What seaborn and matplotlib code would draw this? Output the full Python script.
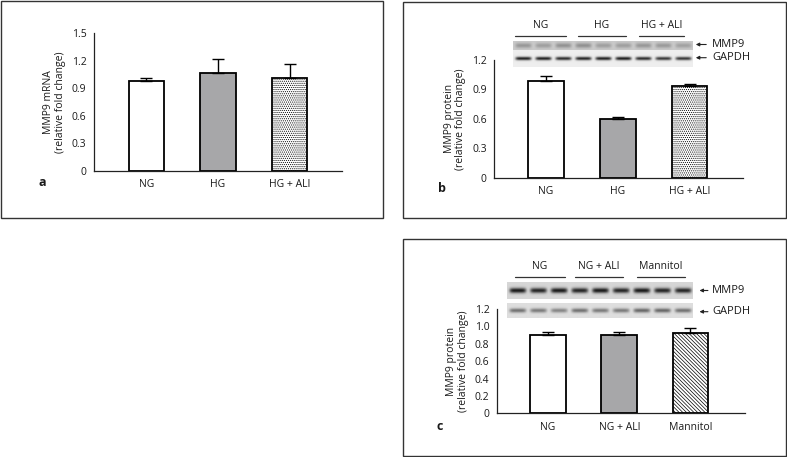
import numpy as np
import pandas as pd
import matplotlib
matplotlib.use('Agg')
import matplotlib.pyplot as plt
import seaborn as sns
from matplotlib.patches import Rectangle, FancyArrowPatch
from matplotlib.lines import Line2D

# ---------------- data ----------------
cats_a = ['NG', 'HG', 'HG + ALI']
mrna_mean = [0.98, 1.07, 1.01]
mrna_sem = [0.03, 0.15, 0.15]
yticks_a = [0, 0.3, 0.6, 0.9, 1.2, 1.5]
yticklabels_a = ['0', '0.3', '0.6', '0.9', '1.2', '1.5']

cats_b = ['NG', 'HG', 'HG + ALI']
prot_b_mean = [0.99, 0.60, 0.93]
prot_b_sem = [0.05, 0.02, 0.03]
yticks_b = [0, 0.3, 0.6, 0.9, 1.2]
yticklabels_b = ['0', '0.3', '0.6', '0.9', '1.2']

cats_c = ['NG', 'NG + ALI', 'Mannitol']
prot_c_mean = [0.90, 0.90, 0.92]
prot_c_sem = [0.04, 0.04, 0.06]
yticks_c = [0, 0.2, 0.4, 0.6, 0.8, 1.0, 1.2]
yticklabels_c = ['0', '0.2', '0.4', '0.6', '0.8', '1.0', '1.2']

# western blot band darkness per lane (3 lanes per group)
blot_b_mmp9 = [0.35, 0.30, 0.38, 0.40, 0.30, 0.30, 0.35, 0.33, 0.28]
blot_b_gapdh = [0.90, 0.90, 0.85, 0.88, 0.90, 0.92, 0.85, 0.80, 0.80]
blot_c_mmp9 = [0.85, 0.80, 0.85, 0.80, 0.85, 0.80, 0.85, 0.80, 0.80]
blot_c_gapdh = [0.55, 0.50, 0.45, 0.55, 0.50, 0.50, 0.60, 0.60, 0.55]
blot_proteins = ['MMP9', 'GAPDH']

# ---------------- style ----------------
sns.set_style('white')
plt.rcParams['font.family'] = ['Open Sans', 'DejaVu Sans']
plt.rcParams['hatch.linewidth'] = 0.5
TXT = '#1a1a1a'
FS = 7.5

W, H = 787, 457
fig = plt.figure(figsize=(W / 100, H / 100), dpi=100)


def frac(x0, y0, x1, y1):
    return [x0 / W, 1 - y1 / H, (x1 - x0) / W, (y1 - y0) / H]


def fx(x):
    return x / W


def fy(y):
    return 1 - y / H


# panel frames
for (x0, y0, x1, y1) in [(1, 1, 383.3, 218), (403.3, 2, 785.7, 218.3), (403.3, 239, 785.7, 455.7)]:
    fig.add_artist(Rectangle((fx(x0), fy(y1)), fx(x1) - fx(x0), fy(y0) - fy(y1),
                             transform=fig.transFigure, fill=False, edgecolor='#333333', lw=1.0))


def bar_panel(rect, cats, means, sems, colors, hatches, yticks, yticklabels, ylabel, xlim):
    ax = fig.add_axes(rect)
    df = pd.DataFrame({'group': cats, 'value': means})
    sns.barplot(data=df, x='group', y='value', hue='group', palette=colors, legend=False,
                width=0.5, edgecolor='black', linewidth=1.3, ax=ax, errorbar=None, saturation=1)
    for p, h in zip(ax.patches, hatches):
        if h:
            p.set_hatch(h)
    ax.errorbar(np.arange(len(cats)), means, yerr=[np.zeros(len(cats)), sems], fmt='none',
                ecolor='black', elinewidth=1.0, capsize=4, capthick=1.0, zorder=4)
    ax.set_ylim(yticks[0], yticks[-1])
    ax.set_xlim(*xlim)
    ax.set_yticks(yticks)
    ax.set_yticklabels(yticklabels)
    ax.set_xlabel('')
    ax.set_ylabel(ylabel, fontsize=FS, color=TXT, labelpad=4, linespacing=1.1)
    sns.despine(ax=ax)
    for s in ['left', 'bottom']:
        ax.spines[s].set_linewidth(0.9)
        ax.spines[s].set_color('#222222')
    ax.tick_params(axis='y', length=3.5, width=0.8, pad=2, labelsize=FS, colors=TXT)
    ax.tick_params(axis='x', length=0, pad=6, labelsize=FS, colors=TXT)
    ax.set_facecolor('none')
    return ax


GRAY = '#a7a7a9'
DOTS = '.' * 8
DIAG = '\\' * 9

# panel a
bar_panel(frac(94, 33, 342, 171), cats_a, mrna_mean, mrna_sem,
          ['white', GRAY, 'white'], [None, None, DOTS],
          yticks_a, yticklabels_a, 'MMP9 mRNA\n(relative fold change)', (-0.734, 2.734))

# panel b
bar_panel(frac(494.3, 60, 743, 177.7), cats_b, prot_b_mean, prot_b_sem,
          ['white', GRAY, 'white'], [None, None, DOTS],
          yticks_b, yticklabels_b, 'MMP9 protein\n(relative fold change)', (-0.72, 2.745))

# panel c
bar_panel(frac(497, 309, 745, 413.3), cats_c, prot_c_mean, prot_c_sem,
          ['white', GRAY, 'white'], [None, None, DIAG],
          yticks_c, yticklabels_c, 'MMP9 protein\n(relative fold change)', (-0.716, 2.765))

# panel letters
for letter, (x, y) in zip(['a', 'b', 'c'], [(42, 183), (441.7, 189), (440, 427)]):
    fig.text(fx(x), fy(y), letter, fontsize=9, fontweight='bold', color=TXT, ha='center', va='center')


def blot_image(intens, bg, depth, rows, sigma_y, lane_px=20, band_frac=0.8):
    n = len(intens)
    cols = n * lane_px
    x = np.arange(cols)
    y = np.arange(rows)
    img = np.full((rows, cols), bg, dtype=float)
    for i, v in enumerate(intens):
        cx = (i + 0.5) * lane_px
        hx = band_frac * lane_px / 2
        prof_x = np.exp(-((x - cx) / hx) ** 6)
        prof_y = np.exp(-((y - (rows - 1) / 2) / sigma_y) ** 2)
        img -= depth * v * np.outer(prof_y, prof_x)
    return np.clip(img, 0, 1)


def draw_blot(rect, img):
    ax = fig.add_axes(rect)
    ax.imshow(img, cmap='gray', vmin=0, vmax=1, aspect='auto', interpolation='bilinear')
    ax.set_axis_off()


def blot_header(groups, lines, line_y, label_y):
    for g, (x0, x1) in zip(groups, lines):
        fig.add_artist(Line2D([fx(x0), fx(x1)], [fy(line_y), fy(line_y)], transform=fig.transFigure,
                              color='#333333', lw=0.9))
        fig.text(fx((x0 + x1) / 2), fy(label_y), g, fontsize=FS, color=TXT, ha='center', va='center')


def blot_arrows(names, ys, x_tail, x_head, x_text):
    for name, y in zip(names, ys):
        fig.add_artist(FancyArrowPatch((fx(x_tail), fy(y)), (fx(x_head), fy(y)), transform=fig.transFigure,
                                       arrowstyle='-|>', mutation_scale=5, lw=0.8, color='#222222'))
        fig.text(fx(x_text), fy(y), name, fontsize=8, color=TXT, ha='left', va='center')


# blot b
draw_blot(frac(513, 41, 693, 50), blot_image(blot_b_mmp9, 0.79, 0.55, 9, 2.5))
draw_blot(frac(513, 50, 693, 66.7), blot_image(blot_b_gapdh, 0.93, 0.85, 17, 1.8))
blot_header(cats_b, [(515, 565.7), (577.7, 625.7), (639, 684)], 36, 26)
blot_arrows(blot_proteins, [44.5, 57.7], 709, 693, 712)

# blot c
draw_blot(frac(507, 282, 693, 299), blot_image(blot_c_mmp9, 0.84, 0.85, 17, 2.6, lane_px=20))
draw_blot(frac(507, 303, 693, 318), blot_image(blot_c_gapdh, 0.87, 0.75, 15, 2.2, lane_px=20))
blot_header(cats_c, [(515, 565), (575, 622.7), (636.7, 685)], 277.3, 266.7)
blot_arrows(blot_proteins, [290.5, 311.7], 710.7, 696.7, 712)

fig.savefig('out.png', dpi=100)
